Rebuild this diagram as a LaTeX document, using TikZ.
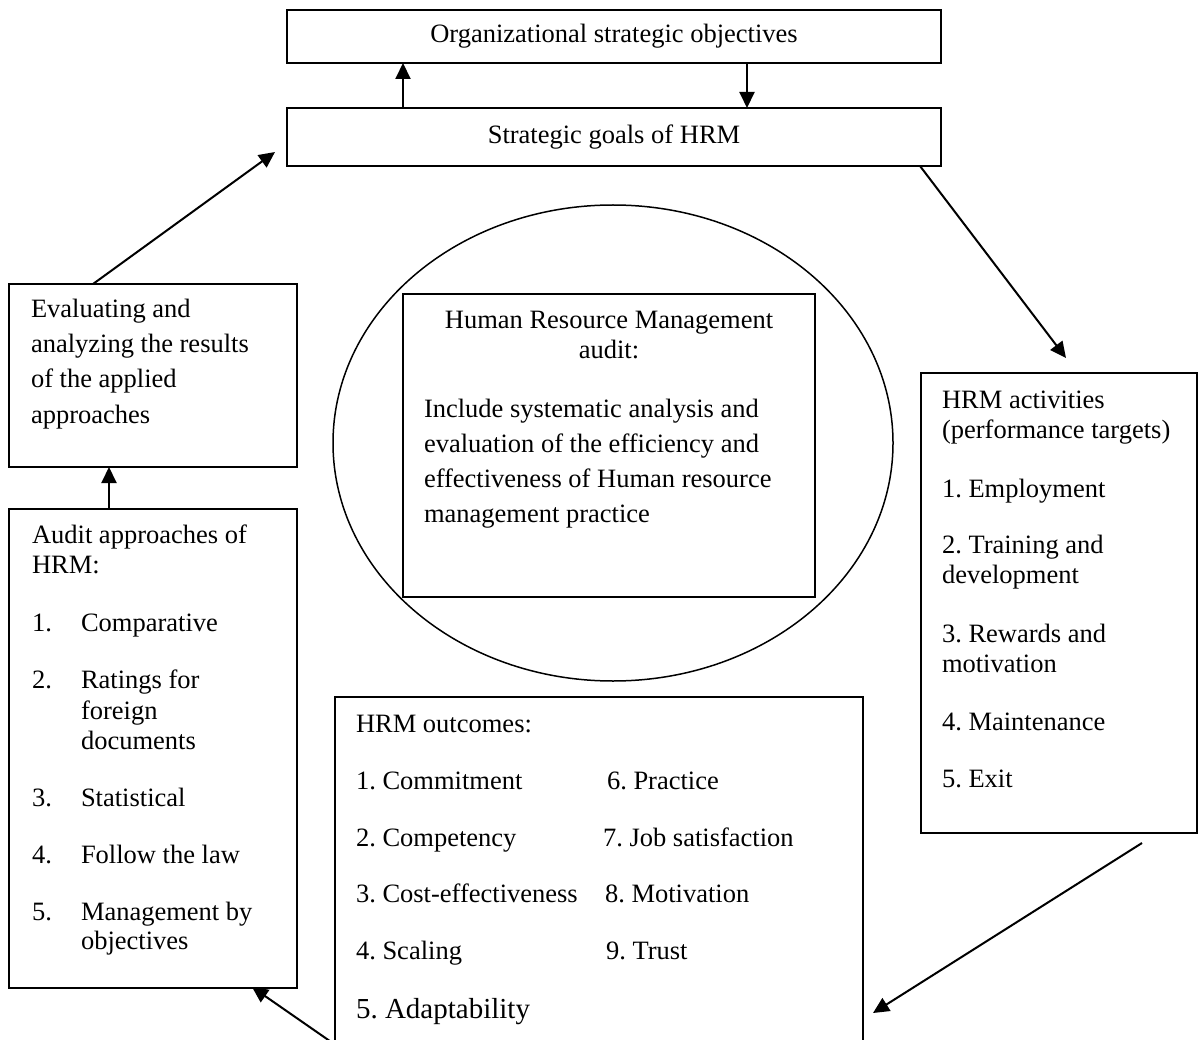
\documentclass[tikz,border=0pt]{standalone}
\usepackage{fontspec}
\setmainfont{Liberation Serif}
\frenchspacing
\usetikzlibrary{arrows.meta,shapes.geometric}
\tikzset{
  box/.style={draw, line width=2pt, rectangle, inner sep=0pt, outer sep=0pt, anchor=north west, font=\fontsize{26.5}{30}\selectfont},
  txt/.style={anchor=base west, inner sep=0pt, outer sep=0pt, font=\fontsize{26.5}{30}\selectfont},
  ctxt/.style={anchor=base, inner sep=0pt, outer sep=0pt, font=\fontsize{26.5}{30}\selectfont},
  bigtxt/.style={anchor=base west, inner sep=0pt, outer sep=0pt, font=\fontsize{29}{33}\selectfont},
  arr/.style={line width=2pt, -{Triangle[length=16pt,width=15pt]}},
}
\begin{document}
\frenchspacing
\begin{tikzpicture}[x=1pt,y=-1pt]
\useasboundingbox (0,0) rectangle (1199,1040);
\clip (0,0) rectangle (1199,1040);

% top boxes
\node[box, minimum width=654pt, minimum height=53pt] (obj) at (287,10) {Organizational strategic objectives};
\node[box, minimum width=654pt, minimum height=58pt] (goals) at (287,108) {Strategic goals of HRM};

% left boxes
\node[box, minimum width=288pt, minimum height=183pt] (eval) at (9,284) {};
\node[txt] (e1) at (31,318) {Evaluating and};
\node[txt] (e2) at (31,353) {analyzing the results};
\node[txt] (e3) at (31,388) {of the applied};
\node[txt] (e4) at (31,423) {approaches};

\node[box, minimum width=288pt, minimum height=479pt] (aud) at (9,509) {};
\node[txt] (a0) at (32,543) {Audit approaches of};
\node[txt] (a0b) at (32,573) {HRM:};
\node[txt] (a1n) at (32,631) {1.};
\node[txt] (a1) at (81,631) {Comparative};
\node[txt] (a2n) at (32,688) {2.};
\node[txt] (a2) at (81,688) {Ratings for};
\node[txt] (a2b) at (81,719) {foreign};
\node[txt] (a2c) at (81,749) {documents};
\node[txt] (a3n) at (32,806) {3.};
\node[txt] (a3) at (81,806) {Statistical};
\node[txt] (a4n) at (32,863) {4.};
\node[txt] (a4) at (81,863) {Follow the law};
\node[txt] (a5n) at (32,920) {5.};
\node[txt] (a5) at (81,920) {Management by};
\node[txt] (a5b) at (81,949) {objectives};

% centre ellipse and audit box
\node[draw, ellipse, line width=1.5pt, inner sep=0pt, minimum width=560pt, minimum height=476pt] (ell) at (613,443) {};
\node[box, minimum width=412pt, minimum height=303pt] (hra) at (403,294) {};
\node[ctxt] (h1) at (609,329) {Human Resource Management};
\node[ctxt] (h2) at (609,359) {audit:};
\node[txt] (h3) at (424,417) {Include systematic analysis and};
\node[txt] (h4) at (424,452) {evaluation of the efficiency and};
\node[txt] (h5) at (424,487) {effectiveness of Human resource};
\node[txt] (h6) at (424,522) {management practice};

% right box
\node[box, minimum width=276pt, minimum height=460pt] (act) at (921,373) {};
\node[txt] (r0) at (942,408) {HRM activities};
\node[txt] (r0b) at (942,438) {(performance targets)};
\node[txt] (r1) at (942,497) {1. Employment};
\node[txt] (r2) at (942,553) {2. Training and};
\node[txt] (r2b) at (942,583) {development};
\node[txt] (r3) at (942,642) {3. Rewards and};
\node[txt] (r3b) at (942,672) {motivation};
\node[txt] (r4) at (942,730) {4. Maintenance};
\node[txt] (r5) at (942,787) {5. Exit};

% bottom box
\node[box, minimum width=528pt, minimum height=400pt] (outc) at (335,697) {};
\node[txt] (o0) at (356,732) {HRM outcomes:};
\node[txt] (o1) at (356,789) {1. Commitment};
\node[txt] (o2) at (356,846) {2. Competency};
\node[txt] (o3) at (356,902) {3. Cost-effectiveness};
\node[txt] (o4) at (356,959) {4. Scaling};
\node[bigtxt] (o5) at (356,1018) {5. Adaptability};
\node[txt] (o6) at (607,789) {6. Practice};
\node[txt] (o7) at (603,846) {7. Job satisfaction};
\node[txt] (o8) at (605,902) {8. Motivation};
\node[txt] (o9) at (606,959) {9. Trust};

% connectors
\draw[arr] ([xshift=116pt]goals.north west) -- ([xshift=116pt]obj.south west);
\draw[arr] ([xshift=460pt]obj.south west) -- ([xshift=460pt]goals.north west);
\draw[arr] ([xshift=-21pt]goals.south east) -- ([xshift=145pt,yshift=15pt]act.north west);
\draw[arr] ([xshift=-55pt,yshift=-10pt]act.south east) -- ([xshift=10pt,yshift=-316pt]outc.north east);
\draw[arr] ([xshift=2pt,yshift=-349pt]outc.north west) -- ([xshift=243pt,yshift=1pt]aud.south west);
\draw[arr] ([xshift=100pt]aud.north west) -- ([xshift=100pt]eval.south west);
\draw[arr] ([xshift=84pt]eval.north west) -- ([xshift=-12pt,yshift=14pt]goals.south west);
\end{tikzpicture}
\end{document}
